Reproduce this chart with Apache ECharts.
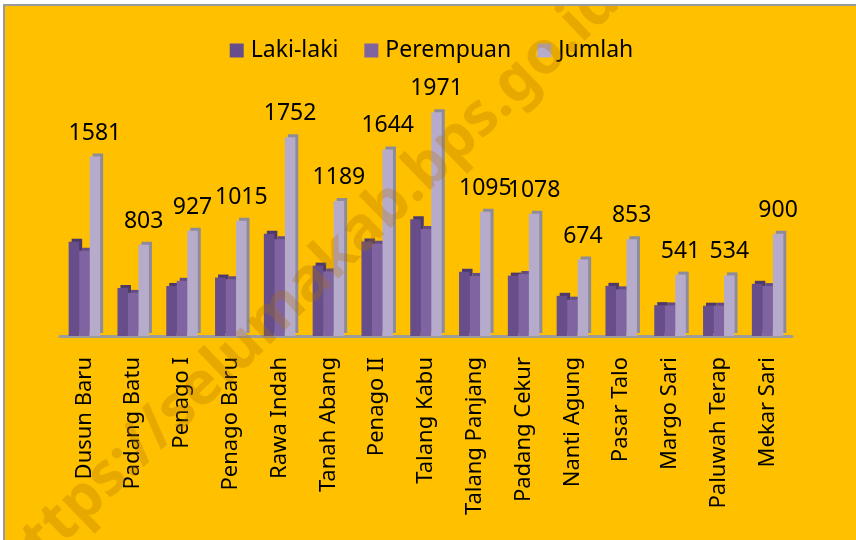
<!DOCTYPE html>
<html>
<head>
<meta charset="utf-8">
<script src="https://cdn.jsdelivr.net/npm/echarts@6/dist/echarts.min.js"></script>
<style>
  html, body { margin: 0; padding: 0; background: #fff; overflow: hidden; }
  #chart {
    position: absolute;
    left: 3px;
    top: 4px;
    width: 853px;
    height: 536px;
    border-top: 2px solid #9a9a9a;
    border-left: 2px solid #9a9a9a;
  }
</style>
</head>
<body>
<div id="chart"></div>
<script>
// kelurahan / desa
var categories = ['Dusun Baru', 'Padang Batu', 'Penago I', 'Penago Baru', 'Rawa Indah',
  'Tanah Abang', 'Penago II', 'Talang Kabu', 'Talang Panjang', 'Padang Cekur',
  'Nanti Agung', 'Pasar Talo', 'Margo Sari', 'Paluwah Terap', 'Mekar Sari']
// jumlah penduduk
var lakiLaki = [830, 423, 441, 515, 900, 620, 832, 1028, 566, 532, 354, 442, 272, 267, 460]
var perempuan = [751, 380, 486, 500, 852, 569, 812, 943, 529, 546, 320, 411, 269, 267, 440]
var jumlah = [1581, 803, 927, 1015, 1752, 1189, 1644, 1971, 1095, 1078, 674, 853, 541, 534, 900]
var seriesNames = ['Laki-laki', 'Perempuan', 'Jumlah']

var font = '"Noto Sans", "Open Sans", sans-serif'

var myChart = echarts.init(document.getElementById('chart'))

function barSeries (name, data, color, side, withLabel) {
  return {
    name: name,
    type: 'bar',
    data: data,
    barWidth: 10.5,
    barGap: '0%',
    itemStyle: {
      color: color,
      shadowColor: side, // kesan 3D
      shadowOffsetX: 3,
      shadowOffsetY: -3,
      shadowBlur: 0
    },
    label: {
      show: withLabel,
      position: 'top',
      distance: 12,
      fontFamily: font,
      fontSize: 23,
      color: '#000'
    }
  }
}

var option = {
  backgroundColor: '#FFC000',
  animation: false,
  legend: {
    data: seriesNames,
    top: 28,
    left: 'center',
    itemWidth: 14,
    itemHeight: 14,
    itemGap: 26,
    icon: 'rect',
    textStyle: { fontFamily: font, fontSize: 23, color: '#000', padding: [0, 0, 0, 2] }
  },
  grid: {
    left: 55,
    right: 66,
    top: 103,
    bottom: 206
  },
  xAxis: {
    type: 'category',
    data: categories,
    axisLine: { show: true, lineStyle: { color: '#9c9c9c', width: 3 } },
    axisTick: { show: false },
    axisLabel: {
      rotate: 90,
      interval: 0,
      margin: 21,
      fontFamily: font,
      fontSize: 22,
      color: '#000'
    }
  },
  yAxis: {
    type: 'value',
    min: 0,
    max: 2000,
    show: false,
    splitLine: { show: false }
  },
  graphic: [{
    type: 'text',
    x: 302,
    y: 279,
    rotation: 44 * Math.PI / 180,
    z: 100,
    silent: true,
    style: {
      text: 'https://selumakab.bps.go.id',
      fontFamily: font,
      fontWeight: 'bold',
      fontSize: 60,
      fill: 'rgba(170,110,0,0.28)',
      align: 'center',
      verticalAlign: 'middle'
    }
  }],
  series: [
    barSeries('Laki-laki', lakiLaki, '#674e8a', '#4e3a6a', false),
    barSeries('Perempuan', perempuan, '#8064a2', '#644d83', false),
    barSeries('Jumlah', jumlah, '#b7abcc', '#8f8c99', true)
  ]
}

myChart.setOption(option)
window.onresize = myChart.resize
</script>
</body>
</html>
